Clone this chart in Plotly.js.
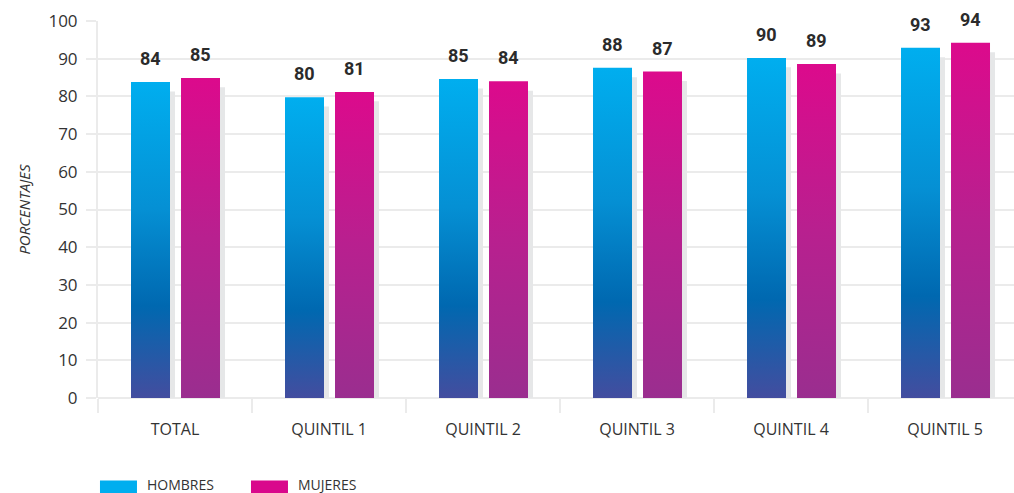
<!DOCTYPE html>
<html>
<head>
<meta charset="utf-8">
<script src="https://cdn.plot.ly/plotly-3.0.1.min.js"></script>
<style>
  html, body { margin: 0; padding: 0; background: #ffffff; }
  #chart { width: 1014px; height: 493px; }
</style>
</head>
<body>
<div id="chart"></div>
<script>
// ---- data ----
const categories = ['TOTAL', 'QUINTIL 1', 'QUINTIL 2', 'QUINTIL 3', 'QUINTIL 4', 'QUINTIL 5'];
const hombres = [83.8, 79.8, 84.6, 87.6, 90.2, 92.9];
const mujeres = [84.9, 81.2, 84.0, 86.6, 88.6, 94.2];
const hombresLabels = ['84', '80', '85', '88', '90', '93'];
const mujeresLabels = ['85', '81', '84', '87', '89', '94'];
const yTicks = [0, 10, 20, 30, 40, 50, 60, 70, 80, 90, 100];

// ---- style constants ----
const BAR_W = 0.2532;
const OFF_H = -0.2857;
const OFF_M = 0.039;
const SHADOW_DX = 0.0325;
const SHADOW_DROP = 2.5;
const CAT_PX = 154;
const COL_H = '#00AEEF';
const COL_M = '#D9088C';
const GRID = '#EBEBEB';

const shadowH = hombres.map(v => v - SHADOW_DROP);
const shadowM = mujeres.map(v => v - SHADOW_DROP);

const traces = [
  { type: 'bar', x: categories, y: shadowH, width: BAR_W, offset: OFF_H + SHADOW_DX,
    marker: { color: '#E6E7E8' }, showlegend: false, hoverinfo: 'skip' },
  { type: 'bar', x: categories, y: shadowM, width: BAR_W, offset: OFF_M + SHADOW_DX,
    marker: { color: '#E6E7E8' }, showlegend: false, hoverinfo: 'skip' },
  { type: 'bar', name: 'HOMBRES', x: categories, y: hombres, width: BAR_W, offset: OFF_H,
    marker: { color: COL_H } },
  { type: 'bar', name: 'MUJERES', x: categories, y: mujeres, width: BAR_W, offset: OFF_M,
    marker: { color: COL_M } }
];

const annotations = [];
categories.forEach((c, i) => {
  annotations.push({ x: c, y: hombres[i], xref: 'x', yref: 'y', text: hombresLabels[i],
    showarrow: false, yanchor: 'middle', xanchor: 'center',
    xshift: (OFF_H + BAR_W / 2) * CAT_PX, yshift: 23.5,
    font: { family: 'Roboto', size: 18, color: '#2B2B2B', weight: 700 } });
  annotations.push({ x: c, y: mujeres[i], xref: 'x', yref: 'y', text: mujeresLabels[i],
    showarrow: false, yanchor: 'middle', xanchor: 'center',
    xshift: (OFF_M + BAR_W / 2) * CAT_PX, yshift: 23.5,
    font: { family: 'Roboto', size: 18, color: '#2B2B2B', weight: 700 } });
});

const layout = {
  width: 1014, height: 493,
  margin: { l: 98, r: 0, t: 21, b: 95, autoexpand: false },
  paper_bgcolor: '#ffffff', plot_bgcolor: '#ffffff',
  barmode: 'overlay',
  font: { family: 'Open Sans', color: '#333333' },
  xaxis: {
    type: 'category', range: [-0.5, 5.448],
    showgrid: false, zeroline: false, showline: false,
    ticks: 'outside', tickson: 'boundaries', ticklen: 14, tickwidth: 2, tickcolor: GRID,
    tickfont: { family: 'Open Sans', size: 16, color: '#333333' },
    ticklabelstandoff: 20
  },
  yaxis: {
    range: [0, 100], tickvals: yTicks, ticktext: yTicks.map(String),
    showgrid: true, gridcolor: GRID, gridwidth: 2,
    zeroline: true, zerolinecolor: GRID, zerolinewidth: 2,
    showline: true, linecolor: GRID, linewidth: 2,
    ticks: 'outside', ticklen: 10, tickwidth: 2, tickcolor: GRID,
    tickfont: { family: 'Open Sans', size: 17, color: '#333333' },
    ticklabelstandoff: 5,
    title: { text: 'PORCENTAJES', standoff: 14,
      font: { family: 'Open Sans', size: 15, color: '#333333', style: 'italic' } }
  },
  legend: {
    orientation: 'h', x: -0.0033, xanchor: 'left', y: -0.1883, yanchor: 'top',
    entrywidth: 106, entrywidthmode: 'pixels', itemwidth: 30,
    font: { family: 'Open Sans', size: 14, color: '#333333' },
    bgcolor: 'rgba(0,0,0,0)'
  },
  annotations: annotations,
  showlegend: true
};

const gd = document.getElementById('chart');
Plotly.newPlot(gd, traces, layout, { displayModeBar: false, staticPlot: true }).then(() => {
  const svg = gd.querySelector('svg.main-svg');
  const ns = 'http://www.w3.org/2000/svg';
  let defs = svg.querySelector('defs');
  if (!defs) { defs = document.createElementNS(ns, 'defs'); svg.insertBefore(defs, svg.firstChild); }
  function grad(id, stops) {
    const g = document.createElementNS(ns, 'linearGradient');
    g.setAttribute('id', id);
    g.setAttribute('x1', '0'); g.setAttribute('y1', '0');
    g.setAttribute('x2', '0'); g.setAttribute('y2', '1');
    stops.forEach(s => {
      const st = document.createElementNS(ns, 'stop');
      st.setAttribute('offset', s[0]);
      st.setAttribute('stop-color', s[1]);
      g.appendChild(st);
    });
    defs.appendChild(g);
  }
  grad('gradH', [[0, '#00AEEF'], [0.4, '#0590D4'], [0.71, '#0068B0'], [1, '#434D9F']]);
  grad('gradM', [[0, '#DC0A8C'], [0.5, '#B8208F'], [1, '#9A2E8F']]);
  const barTraces = gd.querySelectorAll('.barlayer .trace');
  if (barTraces.length >= 4) {
    barTraces[2].querySelectorAll('path').forEach(p => { p.style.fill = 'url(#gradH)'; });
    barTraces[3].querySelectorAll('path').forEach(p => { p.style.fill = 'url(#gradM)'; });
  }
  gd.querySelectorAll('.legend .legendpoints path').forEach(p => {
    p.setAttribute('d', 'M-15,-4h37v14h-37z');
  });
  gd.querySelectorAll('.legend .legendtext').forEach(t => {
    const x = parseFloat(t.getAttribute('x') || '0');
    t.setAttribute('x', x + 12);
    t.querySelectorAll('tspan[x]').forEach(ts => ts.setAttribute('x', parseFloat(ts.getAttribute('x')) + 12));
  });
});
</script>
</body>
</html>
